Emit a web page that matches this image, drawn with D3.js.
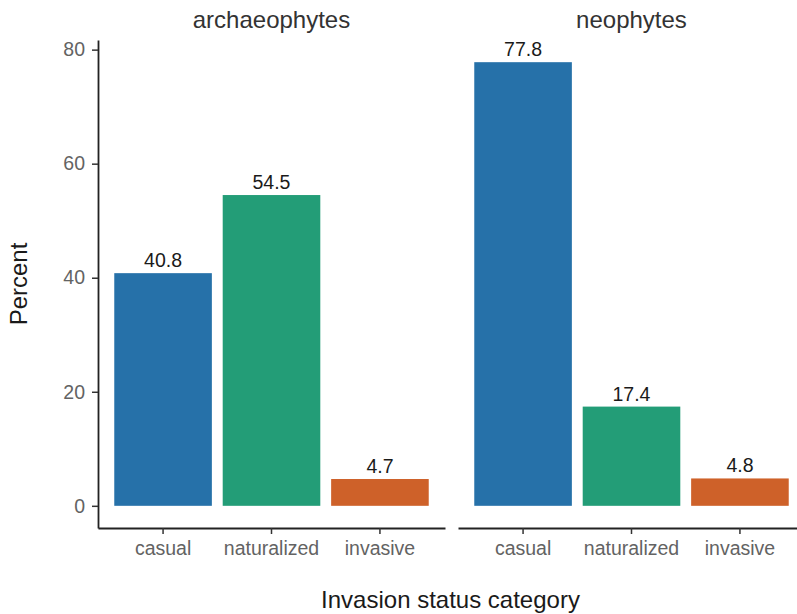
<!DOCTYPE html>
<html>
<head>
<meta charset="utf-8">
<script src="https://cdn.jsdelivr.net/npm/d3@7"></script>
<style>
  body { margin: 0; background: #fff; }
  svg { display: block; font-family: "Liberation Sans", Arial, sans-serif; }
</style>
</head>
<body>
<svg id="chart" width="797" height="614"></svg>
<script>
const panels = ["archaeophytes", "neophytes"];
const categories = ["casual", "naturalized", "invasive"];
const archaeophytesValues = [40.8, 54.5, 4.7];
const neophytesValues = [77.8, 17.4, 4.8];
const yTicks = [0, 20, 40, 60, 80];
const colors = ["#2671a9", "#239d77", "#ce6129"];

const seriesByPanel = { archaeophytes: archaeophytesValues, neophytes: neophytesValues };

const svg = d3.select("#chart");
const plotTop = 40, plotBottom = 528;
const panelRanges = [[98, 445], [458, 805]];

const allVals = archaeophytesValues.concat(neophytesValues);
const maxV = d3.max(allVals);
const pad = maxV * 0.05;
const y = d3.scaleLinear().domain([-pad, maxV + pad]).range([plotBottom, plotTop]);

const colorScale = d3.scaleOrdinal().domain(categories).range(colors);

panels.forEach((p, i) => {
  const x = d3.scaleBand().domain(categories).range(panelRanges[i])
    .paddingInner(0.1).paddingOuter(0.15);
  const g = svg.append("g");
  const vals = seriesByPanel[p];
  const data = categories.map((c, j) => ({ cat: c, v: vals[j] }));

  g.selectAll("rect").data(data).enter().append("rect")
    .attr("x", d => x(d.cat))
    .attr("width", x.bandwidth())
    .attr("y", d => y(d.v))
    .attr("height", d => y(0) - y(d.v))
    .attr("fill", d => colorScale(d.cat));

  g.selectAll("text.val").data(data).enter().append("text")
    .attr("class", "val")
    .attr("x", d => x(d.cat) + x.bandwidth() / 2)
    .attr("y", d => y(d.v) - 6)
    .attr("text-anchor", "middle")
    .attr("font-size", 19.5)
    .attr("fill", "#1a1a1a")
    .text(d => d.v.toFixed(1));

  const xAxis = g.append("g")
    .attr("transform", `translate(0,${plotBottom})`)
    .call(d3.axisBottom(x).tickSize(6).tickSizeOuter(0).tickPadding(7));
  xAxis.select(".domain").attr("stroke", "#222").attr("stroke-width", 1.8);
  xAxis.selectAll(".tick line").attr("stroke", "#333").attr("stroke-width", 1.5);
  xAxis.selectAll(".tick text").attr("font-size", 19.5).attr("fill", "#636363")
    .attr("font-family", "Liberation Sans, Arial, sans-serif");

  svg.append("text")
    .attr("x", (panelRanges[i][0] + panelRanges[i][1]) / 2)
    .attr("y", 28)
    .attr("text-anchor", "middle")
    .attr("font-size", 24)
    .attr("fill", "#333")
    .text(p);

  if (i === 0) {
    const yAxis = svg.append("g")
      .attr("transform", `translate(${panelRanges[0][0]},0)`)
      .call(d3.axisLeft(y).tickValues(yTicks).tickSize(6).tickSizeOuter(0).tickPadding(7));
    yAxis.select(".domain").attr("stroke", "#222").attr("stroke-width", 1.8);
    yAxis.selectAll(".tick line").attr("stroke", "#333").attr("stroke-width", 1.5);
    yAxis.selectAll(".tick text").attr("font-size", 19.5).attr("fill", "#636363")
      .attr("font-family", "Liberation Sans, Arial, sans-serif");
  }
});

svg.append("text")
  .attr("x", (98 + 805) / 2 - 1)
  .attr("y", 608)
  .attr("text-anchor", "middle")
  .attr("font-size", 24)
  .attr("fill", "#1a1a1a")
  .text("Invasion status category");

svg.append("text")
  .attr("transform", `translate(27,${(plotTop + plotBottom) / 2}) rotate(-90)`)
  .attr("text-anchor", "middle")
  .attr("font-size", 24)
  .attr("fill", "#1a1a1a")
  .text("Percent");
</script>
</body>
</html>
